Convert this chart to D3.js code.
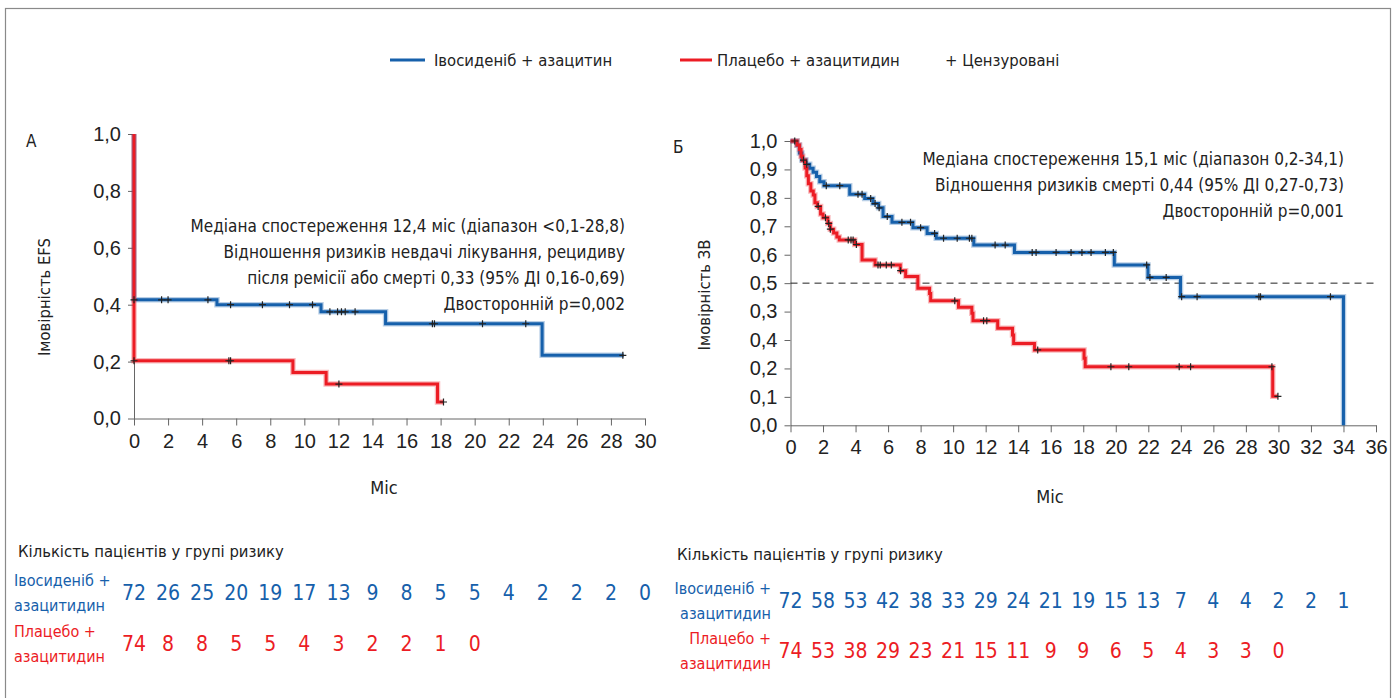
<!DOCTYPE html>
<html>
<head>
<meta charset="utf-8">
<script src="https://cdn.jsdelivr.net/npm/d3@7"></script>
<style>
  body { margin: 0; background: #fff; }
  svg { font-family: "DejaVu Sans Condensed", "Liberation Sans Narrow", sans-serif; }
</style>
</head>
<body>
<div id="chart"></div>
<script>
// ---- data ----
const blue = '#1660ab'
const red = '#ec1c24'

const seriesNames = ['Івосиденіб + азацитин', 'Плацебо + азацитидин']
const censorLabel = '+ Цензуровані'

// panel A : EFS
const ticksA = [0, 2, 4, 6, 8, 10, 12, 14, 16, 18, 20, 22, 24, 26, 28, 30]
const yTicksA = [0, 0.2, 0.4, 0.6, 0.8, 1.0]
const yLabelsA = ['0,0', '0,2', '0,4', '0,6', '0,8', '1,0']
const efsIvo = [[0, 1.0], [0, 0.417], [4.87, 0.40], [10.98, 0.375], [14.77, 0.333], [23.96, 0.222], [28.75, 0.222]]
const efsPbo = [[0, 1.0], [0, 0.203], [9.33, 0.162], [11.28, 0.121], [17.82, 0.058], [18.17, 0.058]]
const efsIvoCens = [0, 1.62, 2.0, 4.34, 5.67, 7.54, 9.13, 10.48, 11.5, 11.95, 12.18, 12.4, 12.98, 17.52, 17.64, 20.46, 23.0, 28.7]
const efsPboCens = [0, 5.57, 5.67, 12.03, 18.17]
const riskIvoA = [72, 26, 25, 20, 19, 17, 13, 9, 8, 5, 5, 4, 2, 2, 2, 0]
const riskPboA = [74, 8, 8, 5, 5, 4, 3, 2, 2, 1, 0]
const noteA = ['Медіана спостереження 12,4 міс (діапазон <0,1-28,8)',
  'Відношення ризиків невдачі лікування, рецидиву',
  'після ремісії або смерті 0,33 (95% ДІ 0,16-0,69)',
  'Двосторонній p=0,002']

// panel B : OS
const ticksB = [0, 2, 4, 6, 8, 10, 12, 14, 16, 18, 20, 22, 24, 26, 28, 30, 32, 34, 36]
const yTicksB = [0, 0.1, 0.2, 0.3, 0.4, 0.5, 0.6, 0.7, 0.8, 0.9, 1.0]
const yLabelsB = ['0,0', '0,1', '0,2', '0,4', '0,3', '0,5', '0,6', '0,7', '0,8', '0,9', '1,0']
const osIvo = [[0, 1.0], [0.4, 0.985], [0.55, 0.958], [0.7, 0.933], [0.95, 0.918], [1.18, 0.904], [1.39, 0.89],
  [1.6, 0.875], [1.8, 0.857], [2.06, 0.843], [3.64, 0.8125], [4.56, 0.798], [5.07, 0.78], [5.42, 0.765],
  [5.69, 0.734], [6.24, 0.714], [7.53, 0.695], [8.4, 0.675], [8.96, 0.658], [11.27, 0.634], [13.77, 0.608],
  [19.91, 0.564], [21.98, 0.52], [23.98, 0.4525], [34.0, 0.0]]
const osPbo = [[0, 1.0], [0.4, 0.986], [0.55, 0.97], [0.65, 0.946], [0.75, 0.932], [0.9, 0.905], [1.0, 0.878],
  [1.1, 0.85], [1.25, 0.824], [1.4, 0.81], [1.5, 0.783], [1.65, 0.77], [1.85, 0.743], [2.0, 0.73],
  [2.3, 0.71], [2.45, 0.69], [2.65, 0.676], [2.85, 0.662], [3.0, 0.652], [3.95, 0.636], [4.4, 0.581],
  [5.2, 0.564], [6.75, 0.544], [7.08, 0.523], [7.83, 0.482], [8.55, 0.464], [8.62, 0.438], [10.33, 0.415],
  [11.15, 0.394], [11.22, 0.368], [12.74, 0.341], [13.65, 0.318], [13.72, 0.288], [15.0, 0.265],
  [18.05, 0.236], [18.12, 0.206], [29.65, 0.102], [29.97, 0.102]]
const osIvoCens = [0.26, 0.8, 1.0, 2.2, 3.03, 4.15, 4.4, 4.93, 5.2, 5.45, 5.95, 6.85, 7.38, 8.0, 8.86, 9.41,
  10.25, 11.0, 11.15, 12.58, 13.2, 14.86, 15.1, 16.33, 17.25, 17.92, 18.48, 19.36, 19.85, 21.9, 22.1, 23.1,
  24.05, 25.0, 28.8, 28.9, 33.2]
const osPboCens = [1.7, 2.15, 2.35, 2.45, 3.55, 3.72, 3.85, 4.05, 5.38, 5.52, 5.89, 6.2, 6.77, 10.1, 11.87,
  12.07, 15.2, 19.7, 20.8, 23.9, 24.6, 29.6, 29.97]
const riskIvoB = [72, 58, 53, 42, 38, 33, 29, 24, 21, 19, 15, 13, 7, 4, 4, 2, 2, 1]
const riskPboB = [74, 53, 38, 29, 23, 21, 15, 11, 9, 9, 6, 5, 4, 3, 3, 0]
const noteB = ['Медіана спостереження 15,1 міс (діапазон 0,2-34,1)',
  'Відношення ризиків смерті 0,44 (95% ДІ 0,27-0,73)',
  'Двосторонній p=0,001']

const riskTitle = 'Кількість пацієнтів у групі ризику'
const riskRowIvo = ['Івосиденіб +', 'азацитидин']
const riskRowPbo = ['Плацебо +', 'азацитидин']

// ---- drawing ----
const W = 1395, H = 698
const svg = d3.select('#chart').append('svg')
  .attr('width', W).attr('height', H)

svg.append('rect')
  .attr('x', 5.5).attr('y', 8.5).attr('width', 1385).attr('height', 720)
  .attr('fill', 'none').attr('stroke', '#8a8a8a').attr('stroke-width', 1.2)

// legend
const leg = svg.append('g').attr('font-size', 16.5).attr('fill', '#222')
leg.append('line').attr('x1', 390).attr('x2', 425).attr('y1', 60).attr('y2', 60)
  .attr('stroke', blue).attr('stroke-width', 3)
leg.append('text').attr('x', 434).attr('y', 66).text(seriesNames[0])
leg.append('line').attr('x1', 680).attr('x2', 712).attr('y1', 60).attr('y2', 60)
  .attr('stroke', red).attr('stroke-width', 3)
leg.append('text').attr('x', 717).attr('y', 66).text(seriesNames[1])
leg.append('text').attr('x', 945).attr('y', 66).text(censorLabel)

const stepValue = (steps, t) => {
  let v = steps[0][1]
  steps.forEach(s => { if (s[0] <= t) v = s[1] })
  return v
}

function panel(cfg) {
  const g = svg.append('g')
  const x = d3.scaleLinear().domain(cfg.xDomain).range(cfg.xRange)
  const y = d3.scaleLinear().domain([0, 1]).range(cfg.yRange)

  const xAxis = g.append('g')
    .attr('transform', `translate(0,${cfg.yRange[0]})`)
    .call(d3.axisBottom(x).tickValues(cfg.xTicks).tickFormat(d => d).tickSize(7).tickSizeOuter(0))
  const yAxis = g.append('g')
    .attr('transform', `translate(${cfg.xRange[0]},0)`)
    .call(d3.axisLeft(y).tickValues(cfg.yTicks).tickFormat((d, i) => cfg.yLabels[i]).tickSize(6).tickSizeOuter(0))
  ;[xAxis, yAxis].forEach(a => {
    a.selectAll('path, line').attr('stroke', '#666').attr('stroke-width', 1)
    a.selectAll('text').attr('fill', '#222').attr('font-family', null)
  })
  xAxis.selectAll('text').attr('font-size', 20).attr('dy', '0.95em')
  yAxis.selectAll('text').attr('font-size', 20).attr('dx', '-0.2em')

  if (cfg.dashed) {
    g.append('line')
      .attr('x1', x(cfg.xDomain[0])).attr('x2', x(cfg.xDomain[1]))
      .attr('y1', y(0.5)).attr('y2', y(0.5))
      .attr('stroke', '#222').attr('stroke-width', 1).attr('stroke-dasharray', '7,5')
  }

  const line = d3.line().x(d => x(d[0])).y(d => y(d[1])).curve(d3.curveStepAfter)
  cfg.curves.forEach(c => {
    g.append('path').attr('d', line(c.steps)).attr('fill', 'none')
      .attr('stroke', c.color).attr('stroke-opacity', 0.3).attr('stroke-width', 5.5)
    g.append('path').attr('d', line(c.steps)).attr('fill', 'none')
      .attr('stroke', c.color).attr('stroke-width', 3)
  })
  cfg.curves.forEach(c => {
    g.selectAll(null).data(c.cens).enter().append('path')
      .attr('transform', t => `translate(${x(t)},${y(stepValue(c.steps, t))})`)
      .attr('d', 'M-3.5,0H3.5M0,-3.5V3.5')
      .attr('stroke', '#222').attr('stroke-width', 1.2)
  })

  // annotation
  g.selectAll(null).data(cfg.note).enter().append('text')
    .attr('x', cfg.noteX).attr('y', (d, i) => cfg.noteY + i * cfg.noteGap)
    .attr('text-anchor', 'end').attr('font-size', 17).attr('fill', '#222')
    .text(d => d)

  g.append('text').attr('x', cfg.letter[0]).attr('y', cfg.letter[1])
    .attr('font-size', 17).attr('fill', '#222').text(cfg.letterText)

  g.append('text')
    .attr('transform', `translate(${cfg.yTitle[0]},${cfg.yTitle[1]}) rotate(-90)`)
    .attr('text-anchor', 'middle').attr('font-size', 16.5).attr('fill', '#222')
    .text(cfg.yTitleText)
  g.append('text').attr('x', cfg.xTitle[0]).attr('y', cfg.xTitle[1])
    .attr('text-anchor', 'middle').attr('font-size', 18).attr('fill', '#222').text('Міс')

  // number at risk
  const r = cfg.risk
  g.append('text').attr('x', r.titleX).attr('y', r.titleY)
    .attr('font-size', 16.5).attr('fill', '#222').text(riskTitle)
  ;[[riskRowIvo, r.ivo, blue, r.ivoY], [riskRowPbo, r.pbo, red, r.pboY]].forEach(([lab, nums, col, yy]) => {
    g.selectAll(null).data(lab).enter().append('text')
      .attr('x', r.labelX).attr('y', (d, i) => yy - 6 + i * 25)
      .attr('text-anchor', r.labelAnchor).attr('font-size', 16).attr('fill', col)
      .text(d => d)
    g.selectAll(null).data(nums).enter().append('text')
      .attr('x', (d, i) => x(cfg.xTicks[i])).attr('y', yy + 8)
      .attr('text-anchor', 'middle').attr('font-size', 21).attr('fill', col)
      .text(d => d)
  })
}

panel({
  xDomain: [0, 30], xRange: [134, 645], yRange: [418.5, 134],
  xTicks: ticksA, yTicks: yTicksA, yLabels: yLabelsA,
  curves: [
    { steps: efsIvo, cens: efsIvoCens, color: blue },
    { steps: efsPbo, cens: efsPboCens, color: red }
  ],
  note: noteA, noteX: 625, noteY: 232, noteGap: 26,
  letter: [26, 147], letterText: 'А',
  yTitle: [50, 297], yTitleText: 'Імовірність EFS',
  xTitle: [384, 494],
  risk: { titleX: 18, titleY: 557, labelX: 14, labelAnchor: 'start',
    ivo: riskIvoA, pbo: riskPboA, ivoY: 592, pboY: 643 }
})

panel({
  xDomain: [0, 36], xRange: [790.5, 1376], yRange: [425.3, 141],
  xTicks: ticksB, yTicks: yTicksB, yLabels: yLabelsB,
  curves: [
    { steps: osIvo, cens: osIvoCens, color: blue },
    { steps: osPbo, cens: osPboCens, color: red }
  ],
  dashed: true,
  note: noteB, noteX: 1344, noteY: 165, noteGap: 26,
  letter: [673, 153], letterText: 'Б',
  yTitle: [710, 295], yTitleText: 'Імовірність ЗВ',
  xTitle: [1050, 503],
  risk: { titleX: 677, titleY: 560, labelX: 771, labelAnchor: 'end',
    ivo: riskIvoB, pbo: riskPboB, ivoY: 600, pboY: 650 }
})
</script>
</body>
</html>
